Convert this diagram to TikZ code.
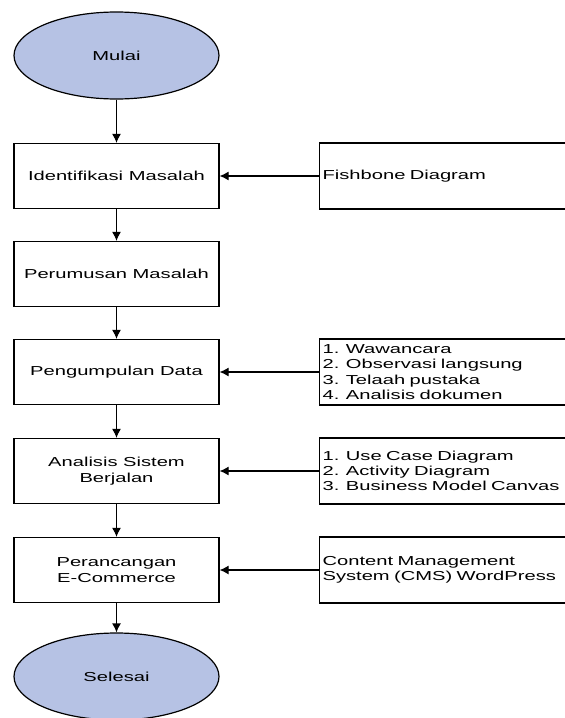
\documentclass[tikz,border=0pt]{standalone}
\usepackage{fontspec}
\setmainfont{Liberation Sans}[FakeStretch=1.55]
\usetikzlibrary{shapes.geometric, arrows.meta}
\definecolor{ovalblue}{RGB}{182,194,228}
\tikzset{terminal/.style={ellipse, draw=black, fill=ovalblue, minimum width=205pt, minimum height=87pt, inner sep=0pt},
    process/.style={rectangle, draw=black, minimum width=205pt, minimum height=65pt, align=center, inner sep=0pt},
    sidebox/.style={rectangle, draw=black, anchor=west, minimum height=66pt, text width=254pt, inner xsep=3pt, align=left},
    flow/.style={-{Latex[length=9pt,width=9pt]}}}

\begin{document}
\begin{tikzpicture}[x=1pt, y=-1pt, line width=1.2pt, font=\fontsize{13}{15.3}\selectfont]
                 \clip(0,0) rectangle (565,718);
                 \node[terminal](mulai) at (116.5,55.5){Mulai};
                 \node[process](ident) at (116.5,176){Identifikasi Masalah};
                 \node[process](rumus) at (116.5,274){Perumusan Masalah};
                 \node[process](kumpul) at (116.5,372){Pengumpulan Data};
                 \node[process](analisis) at (116.5,471){Analisis Sistem\\Berjalan};
                 \node[process](rancang) at (116.5,570){Perancangan\\E-Commerce};
                 \node[terminal](selesai) at (116.5,676.5){Selesai};
                 \node[sidebox](fish) at (319,176){Fishbone Diagram};
                 \node[sidebox](metode) at (319,372){1. Wawancara\\2. Observasi langsung\\3. Telaah pustaka\\4. Analisis dokumen};
                 \node[sidebox](model) at (319,471){1. Use Case Diagram\\2. Activity Diagram\\3. Business Model Canvas};
                 \node[sidebox](cms) at (319,570){Content Management\\System (CMS) WordPress};
                 \draw[flow](mulai)--(ident);
                 \draw[flow](ident)--(rumus);
                 \draw[flow](rumus)--(kumpul);
                 \draw[flow](kumpul)--(analisis);
                 \draw[flow](analisis)--(rancang);
                 \draw[flow](rancang)--(selesai);
                 \draw[flow](fish.west)--(ident.east);
                 \draw[flow](metode.west)--(kumpul.east);
                 \draw[flow](model.west)--(analisis.east);
                 \draw[flow](cms.west)--(rancang.east);
             \end{tikzpicture}
\end{document}
